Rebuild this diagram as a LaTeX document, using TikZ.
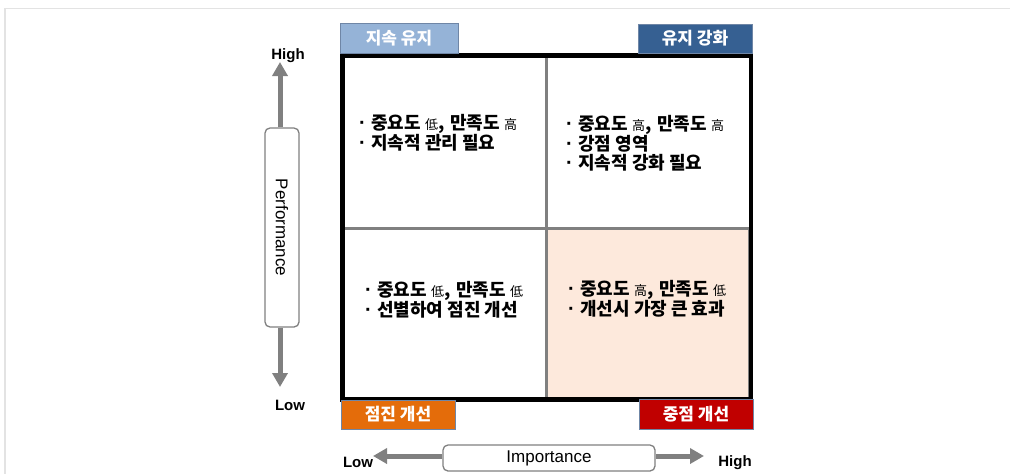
\documentclass[tikz,border=0pt]{standalone}
\usepackage{fontspec}
\setmainfont{Liberation Sans}
\newfontfamily\kr{Noto Sans CJK KR}
\usetikzlibrary{arrows.meta}
\definecolor{tagA}{HTML}{95B3D7}
\definecolor{tagB}{HTML}{366092}
\definecolor{tagC}{HTML}{E46C0A}
\definecolor{tagD}{HTML}{C00000}
\definecolor{tagline}{HTML}{6F86A6}
\definecolor{peach}{HTML}{FDE9DC}
\definecolor{divgray}{HTML}{808080}
\definecolor{pageline}{HTML}{E3E3E3}
\newcommand\hj[1]{{\mdseries\fontsize{13}{13}\selectfont #1}}
\newcommand\bul{\makebox[12pt][l]{{\rmfamily\bfseries\fontsize{20}{20}\selectfont ·}}}
\tikzset{
  tagbox/.style={draw=tagline, line width=1pt, minimum width=114pt, minimum height=29pt,
    inner sep=0pt, text=white, font=\kr\bfseries\fontsize{17}{17}\selectfont},
  quadtext/.style={anchor=west, align=left, inner sep=0pt,
    font=\kr\bfseries\fontsize{18}{18.8}\selectfont},
  axisbox/.style={draw=divgray, line width=1.3pt, rounded corners=5pt, fill=white, inner sep=0pt},
  axislabel/.style={font=\bfseries\fontsize{15}{15}\selectfont, inner sep=0pt},
  axisarrow/.style={draw=divgray, line width=5pt, -{Triangle[length=14pt,width=15pt]}},
}
\begin{document}
\begin{tikzpicture}[x=1pt,y=-1pt]
\useasboundingbox (0,0) rectangle (1010,474);
% page frame lines
\draw[pageline, line width=1.5pt] (5,474) -- (5,8.5) -- (1010,8.5);

% peach quadrant
\fill[peach] (546.5,228.5) rectangle (751,399.5);
\draw[divgray, line width=2pt] (546.5,228.5) rectangle (749,397.5);
% dividers
\draw[divgray, line width=3.5pt] (546.5,55.5) -- (546.5,399.5);
\draw[divgray, line width=3.5pt] (342.5,228.5) -- (751,228.5);
% black frame
\draw[black, line width=4.5pt] (342.5,55.5) rectangle (751,399.5);

% tags
\node[tagbox, fill=tagA, minimum width=118pt, minimum height=30pt] (t1) at (399,38) {지속 유지};
\node[tagbox, fill=tagB] (t2) at (695,38.5) {유지 강화};
\node[tagbox, fill=tagC] (t3) at (398,414.5) {점진 개선};
\node[tagbox, fill=tagD, minimum height=30pt] (t4) at (696,414) {중점 개선};

% quadrant texts
\node[quadtext] (q1) at (359,132.5) {\bul 중요도 \hj{低},\hspace{6pt}만족도 \hj{高}\\\bul 지속적 관리 필요};
\node[quadtext] (q2) at (566,143.5) {\bul 중요도 \hj{高},\hspace{6pt}만족도 \hj{高}\\\bul 강점 영역\\\bul 지속적 강화 필요};
\node[quadtext] (q3) at (365,300) {\bul 중요도 \hj{低},\hspace{6pt}만족도 \hj{低}\\\bul 선별하여 점진 개선};
\node[quadtext] (q4) at (568,298.5) {\bul 중요도 \hj{高},\hspace{6pt}만족도 \hj{低}\\\bul 개선시 가장 큰 효과};

% vertical axis
\node[axisbox, minimum width=34pt, minimum height=199pt] (perf) at (282,227.5) {};
\node[rotate=-90, font=\fontsize{17}{17}\selectfont] (perft) at (perf.center) {Performance};
\coordinate (vtop) at (280,62);
\coordinate (vbot) at (280,387);
\draw[axisarrow] (perf.north -| vtop) -- (vtop);
\draw[axisarrow] (perf.south -| vbot) -- (vbot);
\node[axislabel] (vhigh) at (288,56) {High};
\node[axislabel] (vlow) at (290,405) {Low};

% horizontal axis
\node[axisbox, minimum width=212pt, minimum height=26pt] (imp) at (549,458) {};
\node[font=\fontsize{17}{17}\selectfont] (impt) at (imp.center) {Importance};
\coordinate (hl) at (373,456);
\coordinate (hr) at (704,456);
\draw[axisarrow] (imp.west |- hl) -- (hl);
\draw[axisarrow] (imp.east |- hr) -- (hr);
\node[axislabel] (hlow) at (358,462) {Low};
\node[axislabel] (hhigh) at (735,463) {High};
\end{tikzpicture}
\end{document}
